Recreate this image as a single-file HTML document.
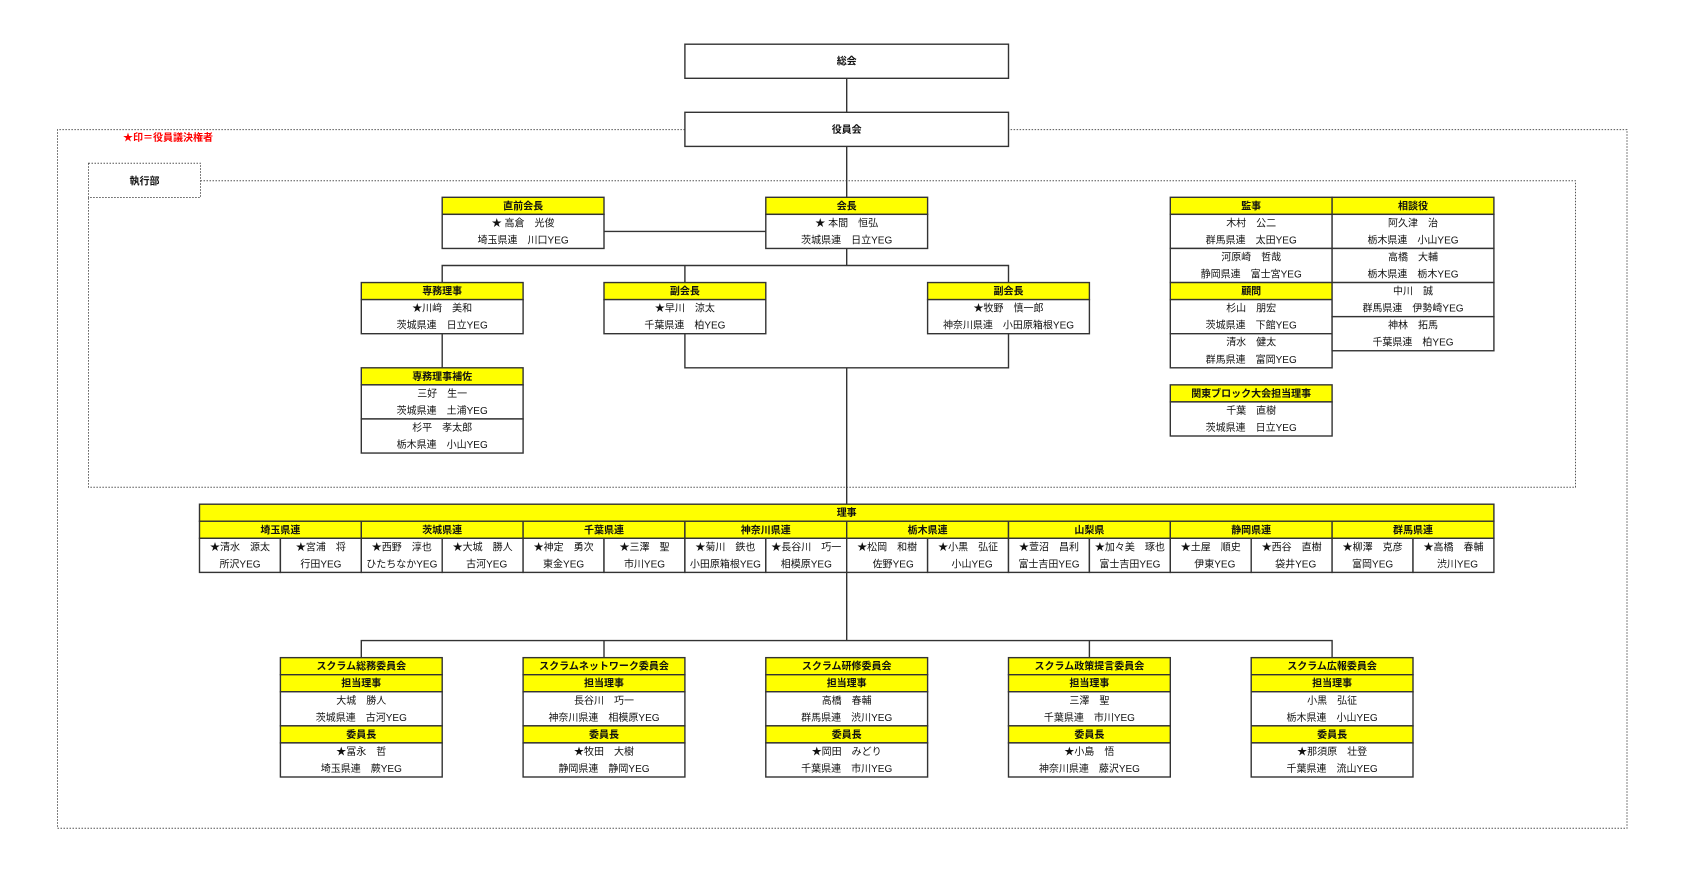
<!DOCTYPE html>
<html><head><meta charset="utf-8"><style>
html,body{margin:0;padding:0;background:#fff;}
svg{display:block;}
text{font-family:"Liberation Sans","Noto Sans CJK JP",sans-serif;font-size:10px;text-anchor:middle;dominant-baseline:central;fill:#111;transform:translateY(1px);}
.b{font-weight:bold;}
.y{fill:#ffff00;stroke:#333;stroke-width:1.4;}
.w{fill:#fff;stroke:#333;stroke-width:1.4;}
.l{stroke:#333;stroke-width:1.4;fill:none;}
.d{stroke:#555;stroke-width:1;fill:none;stroke-dasharray:1.5 1.5;}
</style></head><body>
<svg width="1684" height="880" viewBox="0 0 1684 880" xmlns="http://www.w3.org/2000/svg">
<!-- dashed frames -->
<path class="d" d="M684.9,129.6 H57.5 V828.2 H1627 V129.6 H1008.5"/>
<rect class="d" x="88.5" y="163.3" width="112" height="34.2"/>
<path class="d" d="M200.5,180.8 H1575.5 V487.2 H88.5 V197.5"/>
<text x="168" y="137.5" class="b" style="fill:#ff0000">★印＝役員議決権者</text>
<text x="144.5" y="180.8" class="b">執行部</text>

<!-- connectors -->
<path class="l" d="M846.7,78 V112 M846.7,146.2 V197.3 M846.7,248.5 V265.5"/>
<path class="l" d="M604,231.4 H765.8"/>
<path class="l" d="M442.2,282.6 V265.5 H1008.5 V282.6 M684.9,265.5 V282.6"/>
<path class="l" d="M442.2,333.7 V367.8"/>
<path class="l" d="M684.9,333.7 V367.8 H1008.5 V333.7 M846.7,367.8 V504.2"/>
<path class="l" d="M846.7,572.4 V640.6 M361.3,657.7 V640.6 H1332.1 V657.7 M604,640.6 V657.7 M1089.4,640.6 V657.7"/>

<!-- 総会 / 役員会 -->
<rect class="w" x="684.9" y="44.2" width="323.6" height="34.1"/>
<text x="846.7" y="61.2" class="b">総会</text>
<rect class="w" x="684.9" y="112.3" width="323.6" height="34.1"/>
<text x="846.7" y="129.3" class="b">役員会</text>

<!-- 直前会長 -->
<rect class="y" x="442.2" y="197.3" width="161.8" height="17.05"/>
<rect class="w" x="442.2" y="214.35" width="161.8" height="34.1"/>
<text x="523.1" y="205.8" class="b">直前会長</text>
<text x="523.1" y="222.9">★ 高倉　光俊</text>
<text x="523.1" y="239.9">埼玉県連　川口YEG</text>

<!-- 会長 -->
<rect class="y" x="765.8" y="197.3" width="161.8" height="17.05"/>
<rect class="w" x="765.8" y="214.35" width="161.8" height="34.1"/>
<text x="846.7" y="205.8" class="b">会長</text>
<text x="846.7" y="222.9">★ 本間　恒弘</text>
<text x="846.7" y="239.9">茨城県連　日立YEG</text>

<!-- 専務理事 -->
<rect class="y" x="361.3" y="282.55" width="161.8" height="17.05"/>
<rect class="w" x="361.3" y="299.6" width="161.8" height="34.1"/>
<text x="442.2" y="291.1" class="b">専務理事</text>
<text x="442.2" y="308.1">★川﨑　美和</text>
<text x="442.2" y="325.2">茨城県連　日立YEG</text>

<!-- 副会長 1 -->
<rect class="y" x="604" y="282.55" width="161.8" height="17.05"/>
<rect class="w" x="604" y="299.6" width="161.8" height="34.1"/>
<text x="684.9" y="291.1" class="b">副会長</text>
<text x="684.9" y="308.1">★早川　涼太</text>
<text x="684.9" y="325.2">千葉県連　柏YEG</text>

<!-- 副会長 2 -->
<rect class="y" x="927.6" y="282.55" width="161.8" height="17.05"/>
<rect class="w" x="927.6" y="299.6" width="161.8" height="34.1"/>
<text x="1008.5" y="291.1" class="b">副会長</text>
<text x="1008.5" y="308.1">★牧野　慎一郎</text>
<text x="1008.5" y="325.2">神奈川県連　小田原箱根YEG</text>

<!-- 専務理事補佐 -->
<rect class="y" x="361.3" y="367.8" width="161.8" height="17.05"/>
<rect class="w" x="361.3" y="384.85" width="161.8" height="34.1"/>
<rect class="w" x="361.3" y="418.95" width="161.8" height="34.1"/>
<text x="442.2" y="376.3" class="b">専務理事補佐</text>
<text x="442.2" y="393.4">三好　生一</text>
<text x="442.2" y="410.4">茨城県連　土浦YEG</text>
<text x="442.2" y="427.5">杉平　孝太郎</text>
<text x="442.2" y="444.5">栃木県連　小山YEG</text>

<!-- 監事 / 顧問 -->
<rect class="y" x="1170.3" y="197.3" width="161.8" height="17.05"/>
<rect class="w" x="1170.3" y="214.35" width="161.8" height="34.1"/>
<rect class="w" x="1170.3" y="248.45" width="161.8" height="34.1"/>
<rect class="y" x="1170.3" y="282.55" width="161.8" height="17.05"/>
<rect class="w" x="1170.3" y="299.6" width="161.8" height="34.1"/>
<rect class="w" x="1170.3" y="333.7" width="161.8" height="34.1"/>
<text x="1251.2" y="205.8" class="b">監事</text>
<text x="1251.2" y="222.9">木村　公二</text>
<text x="1251.2" y="239.9">群馬県連　太田YEG</text>
<text x="1251.2" y="257">河原崎　哲哉</text>
<text x="1251.2" y="274">静岡県連　富士宮YEG</text>
<text x="1251.2" y="291.1" class="b">顧問</text>
<text x="1251.2" y="308.1">杉山　朋宏</text>
<text x="1251.2" y="325.2">茨城県連　下館YEG</text>
<text x="1251.2" y="342.2">清水　健太</text>
<text x="1251.2" y="359.3">群馬県連　富岡YEG</text>

<!-- 相談役 -->
<rect class="y" x="1332.1" y="197.3" width="161.8" height="17.05"/>
<rect class="w" x="1332.1" y="214.35" width="161.8" height="34.1"/>
<rect class="w" x="1332.1" y="248.45" width="161.8" height="34.1"/>
<rect class="w" x="1332.1" y="282.55" width="161.8" height="34.1"/>
<rect class="w" x="1332.1" y="316.65" width="161.8" height="34.1"/>
<text x="1413" y="205.8" class="b">相談役</text>
<text x="1413" y="222.9">阿久津　治</text>
<text x="1413" y="239.9">栃木県連　小山YEG</text>
<text x="1413" y="257">高橋　大輔</text>
<text x="1413" y="274">栃木県連　栃木YEG</text>
<text x="1413" y="291.1">中川　誠</text>
<text x="1413" y="308.1">群馬県連　伊勢崎YEG</text>
<text x="1413" y="325.2">神林　拓馬</text>
<text x="1413" y="342.2">千葉県連　柏YEG</text>

<!-- 関東ブロック -->
<rect class="y" x="1170.3" y="384.85" width="161.8" height="17.05"/>
<rect class="w" x="1170.3" y="401.9" width="161.8" height="34.1"/>
<text x="1251.2" y="393.4" class="b">関東ブロック大会担当理事</text>
<text x="1251.2" y="410.4">千葉　直樹</text>
<text x="1251.2" y="427.5">茨城県連　日立YEG</text>

<!-- 理事 -->
<rect class="y" x="199.5" y="504.2" width="1294.4" height="17.05"/>
<text x="846.7" y="512.7" class="b">理事</text>
<rect class="y" x="199.5" y="521.25" width="161.8" height="17.05"/>
<rect class="y" x="361.3" y="521.25" width="161.8" height="17.05"/>
<rect class="y" x="523.1" y="521.25" width="161.8" height="17.05"/>
<rect class="y" x="684.9" y="521.25" width="161.8" height="17.05"/>
<rect class="y" x="846.7" y="521.25" width="161.8" height="17.05"/>
<rect class="y" x="1008.5" y="521.25" width="161.8" height="17.05"/>
<rect class="y" x="1170.3" y="521.25" width="161.8" height="17.05"/>
<rect class="y" x="1332.1" y="521.25" width="161.8" height="17.05"/>
<text x="280.4" y="529.8" class="b">埼玉県連</text>
<text x="442.2" y="529.8" class="b">茨城県連</text>
<text x="604" y="529.8" class="b">千葉県連</text>
<text x="765.8" y="529.8" class="b">神奈川県連</text>
<text x="927.6" y="529.8" class="b">栃木県連</text>
<text x="1089.4" y="529.8" class="b">山梨県</text>
<text x="1251.2" y="529.8" class="b">静岡県連</text>
<text x="1413" y="529.8" class="b">群馬県連</text>
<rect class="w" x="199.5" y="538.3" width="80.9" height="34.1"/>
<rect class="w" x="280.4" y="538.3" width="80.9" height="34.1"/>
<rect class="w" x="361.3" y="538.3" width="80.9" height="34.1"/>
<rect class="w" x="442.2" y="538.3" width="80.9" height="34.1"/>
<rect class="w" x="523.1" y="538.3" width="80.9" height="34.1"/>
<rect class="w" x="604" y="538.3" width="80.9" height="34.1"/>
<rect class="w" x="684.9" y="538.3" width="80.9" height="34.1"/>
<rect class="w" x="765.8" y="538.3" width="80.9" height="34.1"/>
<rect class="w" x="846.7" y="538.3" width="80.9" height="34.1"/>
<rect class="w" x="927.6" y="538.3" width="80.9" height="34.1"/>
<rect class="w" x="1008.5" y="538.3" width="80.9" height="34.1"/>
<rect class="w" x="1089.4" y="538.3" width="80.9" height="34.1"/>
<rect class="w" x="1170.3" y="538.3" width="80.9" height="34.1"/>
<rect class="w" x="1251.2" y="538.3" width="80.9" height="34.1"/>
<rect class="w" x="1332.1" y="538.3" width="80.9" height="34.1"/>
<rect class="w" x="1413" y="538.3" width="80.9" height="34.1"/>
<text x="240" y="546.8">★清水　源太</text><text x="240" y="563.9">所沢YEG</text>
<text x="320.9" y="546.8">★宮浦　将</text><text x="320.9" y="563.9">行田YEG</text>
<text x="401.8" y="546.8">★西野　淳也</text><text x="401.8" y="563.9">ひたちなかYEG</text>
<text x="482.7" y="546.8">★大城　勝人</text><text x="486.7" y="563.9">古河YEG</text>
<text x="563.6" y="546.8">★神定　勇次</text><text x="563.6" y="563.9">東金YEG</text>
<text x="644.5" y="546.8">★三澤　聖</text><text x="644.5" y="563.9">市川YEG</text>
<text x="725.4" y="546.8">★菊川　鉄也</text><text x="725.4" y="563.9">小田原箱根YEG</text>
<text x="806.3" y="546.8">★長谷川　巧一</text><text x="806.3" y="563.9">相模原YEG</text>
<text x="887.2" y="546.8">★松岡　和樹</text><text x="893.2" y="563.9">佐野YEG</text>
<text x="968.1" y="546.8">★小黒　弘征</text><text x="972.1" y="563.9">小山YEG</text>
<text x="1049" y="546.8">★萱沼　昌利</text><text x="1049" y="563.9">富士吉田YEG</text>
<text x="1129.9" y="546.8">★加々美　琢也</text><text x="1129.9" y="563.9">富士吉田YEG</text>
<text x="1210.8" y="546.8">★土屋　順史</text><text x="1214.8" y="563.9">伊東YEG</text>
<text x="1291.7" y="546.8">★西谷　直樹</text><text x="1295.7" y="563.9">袋井YEG</text>
<text x="1372.6" y="546.8">★柳澤　克彦</text><text x="1372.6" y="563.9">富岡YEG</text>
<text x="1453.5" y="546.8">★高橋　春輔</text><text x="1457.5" y="563.9">渋川YEG</text>

<!-- Committees -->
<g>
<rect class="y" x="280.4" y="657.65" width="161.8" height="17.05"/>
<rect class="y" x="280.4" y="674.7" width="161.8" height="17.05"/>
<rect class="w" x="280.4" y="691.75" width="161.8" height="34.1"/>
<rect class="y" x="280.4" y="725.85" width="161.8" height="17.05"/>
<rect class="w" x="280.4" y="742.9" width="161.8" height="34.1"/>
<text x="361.3" y="666.2" class="b">スクラム総務委員会</text>
<text x="361.3" y="683.2" class="b">担当理事</text>
<text x="361.3" y="700.3">大城　勝人</text>
<text x="361.3" y="717.3">茨城県連　古河YEG</text>
<text x="361.3" y="734.4" class="b">委員長</text>
<text x="361.3" y="751.4">★冨永　哲</text>
<text x="361.3" y="768.5">埼玉県連　蕨YEG</text>
</g>
<g>
<rect class="y" x="523.1" y="657.65" width="161.8" height="17.05"/>
<rect class="y" x="523.1" y="674.7" width="161.8" height="17.05"/>
<rect class="w" x="523.1" y="691.75" width="161.8" height="34.1"/>
<rect class="y" x="523.1" y="725.85" width="161.8" height="17.05"/>
<rect class="w" x="523.1" y="742.9" width="161.8" height="34.1"/>
<text x="604" y="666.2" class="b">スクラムネットワーク委員会</text>
<text x="604" y="683.2" class="b">担当理事</text>
<text x="604" y="700.3">長谷川　巧一</text>
<text x="604" y="717.3">神奈川県連　相模原YEG</text>
<text x="604" y="734.4" class="b">委員長</text>
<text x="604" y="751.4">★牧田　大樹</text>
<text x="604" y="768.5">静岡県連　静岡YEG</text>
</g>
<g>
<rect class="y" x="765.8" y="657.65" width="161.8" height="17.05"/>
<rect class="y" x="765.8" y="674.7" width="161.8" height="17.05"/>
<rect class="w" x="765.8" y="691.75" width="161.8" height="34.1"/>
<rect class="y" x="765.8" y="725.85" width="161.8" height="17.05"/>
<rect class="w" x="765.8" y="742.9" width="161.8" height="34.1"/>
<text x="846.7" y="666.2" class="b">スクラム研修委員会</text>
<text x="846.7" y="683.2" class="b">担当理事</text>
<text x="846.7" y="700.3">高橋　春輔</text>
<text x="846.7" y="717.3">群馬県連　渋川YEG</text>
<text x="846.7" y="734.4" class="b">委員長</text>
<text x="846.7" y="751.4">★岡田　みどり</text>
<text x="846.7" y="768.5">千葉県連　市川YEG</text>
</g>
<g>
<rect class="y" x="1008.5" y="657.65" width="161.8" height="17.05"/>
<rect class="y" x="1008.5" y="674.7" width="161.8" height="17.05"/>
<rect class="w" x="1008.5" y="691.75" width="161.8" height="34.1"/>
<rect class="y" x="1008.5" y="725.85" width="161.8" height="17.05"/>
<rect class="w" x="1008.5" y="742.9" width="161.8" height="34.1"/>
<text x="1089.4" y="666.2" class="b">スクラム政策提言委員会</text>
<text x="1089.4" y="683.2" class="b">担当理事</text>
<text x="1089.4" y="700.3">三澤　聖</text>
<text x="1089.4" y="717.3">千葉県連　市川YEG</text>
<text x="1089.4" y="734.4" class="b">委員長</text>
<text x="1089.4" y="751.4">★小島　悟</text>
<text x="1089.4" y="768.5">神奈川県連　藤沢YEG</text>
</g>
<g>
<rect class="y" x="1251.2" y="657.65" width="161.8" height="17.05"/>
<rect class="y" x="1251.2" y="674.7" width="161.8" height="17.05"/>
<rect class="w" x="1251.2" y="691.75" width="161.8" height="34.1"/>
<rect class="y" x="1251.2" y="725.85" width="161.8" height="17.05"/>
<rect class="w" x="1251.2" y="742.9" width="161.8" height="34.1"/>
<text x="1332.1" y="666.2" class="b">スクラム広報委員会</text>
<text x="1332.1" y="683.2" class="b">担当理事</text>
<text x="1332.1" y="700.3">小黒　弘征</text>
<text x="1332.1" y="717.3">栃木県連　小山YEG</text>
<text x="1332.1" y="734.4" class="b">委員長</text>
<text x="1332.1" y="751.4">★那須原　壮登</text>
<text x="1332.1" y="768.5">千葉県連　流山YEG</text>
</g>
</svg>
</body></html>
